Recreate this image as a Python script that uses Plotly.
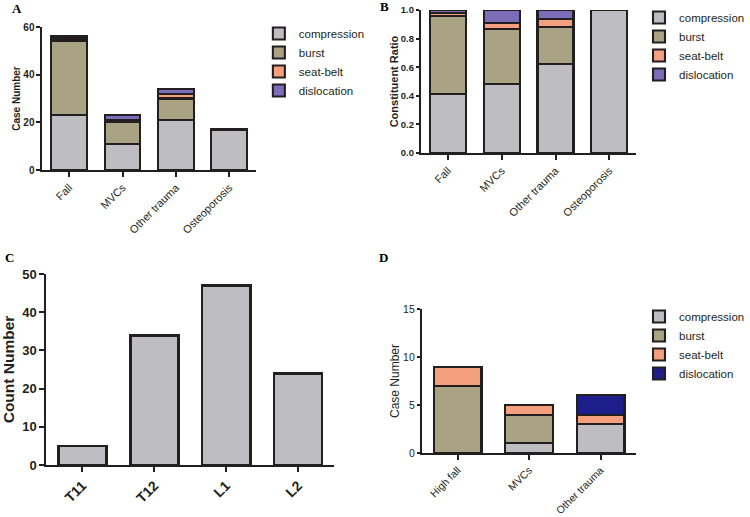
import plotly.graph_objects as go

# panel A: case numbers by cause
causes_a = ["Fall", "MVCs", "Other trauma", "Osteoporosis"]
compression_a = [23, 11, 21, 17]
burst_a = [31, 9, 9, 0]
seatbelt_a = [1, 1, 2, 0]
dislocation_a = [1, 2, 2, 0]

# panel B: constituent ratio by cause
compression_b = [0.41, 0.48, 0.62, 1.0]
burst_b = [0.55, 0.39, 0.26, 0.0]
seatbelt_b = [0.02, 0.04, 0.06, 0.0]
dislocation_b = [0.02, 0.09, 0.06, 0.0]

# panel C: count by level
levels_c = ["T11", "T12", "L1", "L2"]
counts_c = [5, 34, 47, 24]

# panel D: case numbers by cause
causes_d = ["High fall", "MVCs", "Other trauma"]
compression_d = [0, 1, 3]
burst_d = [7, 3, 0]
seatbelt_d = [2, 1, 1]
dislocation_d = [0, 0, 2]

types = ["compression", "burst", "seat-belt", "dislocation"]
colors = ["#BEBEC2", "#A9A283", "#F4A07F", "#7B6DB8"]
colors_d = ["#BEBEC2", "#A9A283", "#F4A07F", "#1E1E8A"]
OUTLINE = "#231F20"
FONT = "Liberation Sans"

W, H = 750, 517

def px_x(a, b):
    return [a / W, b / W]

def px_y(bottom, top):
    return [1 - bottom / H, 1 - top / H]

fig = go.Figure()

def add_stack(x, series, cols, xa, ya, legend, lw=2.1):
    for name, vals, c in zip(types, series, cols):
        fig.add_trace(go.Bar(x=x, y=vals, name=name, marker_color=c,
                             marker_line=dict(color=OUTLINE, width=lw),
                             xaxis=xa, yaxis=ya, legend=legend))

add_stack(causes_a, [compression_a, burst_a, seatbelt_a, dislocation_a], colors, "x", "y", "legend")
add_stack(causes_a, [compression_b, burst_b, seatbelt_b, dislocation_b], colors, "x2", "y2", "legend2")
fig.add_trace(go.Bar(x=levels_c, y=counts_c, marker_color="#BEBEC2",
                     marker_line=dict(color=OUTLINE, width=2.8),
                     xaxis="x3", yaxis="y3", showlegend=False))
add_stack(causes_d, [compression_d, burst_d, seatbelt_d, dislocation_d], colors_d, "x4", "y4", "legend3")

def xax(domain, rng, anchor, size=11, bold=False):
    return dict(domain=domain, range=rng, anchor=anchor, type="category", showline=True,
                linecolor=OUTLINE, linewidth=2, ticks="outside", ticklen=5, tickwidth=1.5,
                tickcolor=OUTLINE, tickangle=-45, showgrid=False, zeroline=False,
                automargin=False,
                tickfont=dict(family=FONT, size=size, color="#231F20",
                              weight="bold" if bold else "normal"))

def yax(domain, rng, anchor, dtick, title, size=10, tsize=10, bold=True, tbold=True,
        standoff=4, ticklen=5):
    return dict(domain=domain, range=rng, anchor=anchor, dtick=dtick, showline=True,
                linecolor=OUTLINE, linewidth=2, ticks="outside", ticklen=ticklen, tickwidth=1.5,
                tickcolor=OUTLINE, showgrid=False, zeroline=False, automargin=False,
                tickfont=dict(family=FONT, size=size, color="#231F20",
                              weight="bold" if bold else "normal"),
                title=dict(text=title, standoff=standoff,
                           font=dict(family=FONT, size=tsize, color="#231F20",
                                     weight="bold" if tbold else "normal")))

xa = xax(px_x(43, 259), [-0.5, 3.5], "y")
xb = xax(px_x(426, 644), [-0.5, 3.5], "y2")
xc = xax(px_x(47, 338), [-0.5, 3.5], "y3", size=14, bold=True)
xd = xax(px_x(427, 644), [-0.5, 2.5], "y4", size=10.5)

ya = yax(px_y(170, 27), [0, 60], "x", 20, "Case Number", standoff=1, ticklen=4)
yb = yax(px_y(153, 10), [0, 1], "x2", 0.2, "Constituent Ratio", size=9.5, tsize=11,
         standoff=0, ticklen=3)
yb["tickformat"] = ".1f"
yc = yax(px_y(465, 274), [0, 50], "x3", 10, "Count Number", size=13, tsize=15.5, standoff=9)
yd = yax(px_y(453, 309), [0, 15], "x4", 5, "Case Number", size=10.5, bold=False, tbold=False,
         tsize=12, standoff=1, ticklen=3)

def leg(x, y):
    return dict(x=x / W, y=1 - y / H, xanchor="left", yanchor="top", itemwidth=30,
                traceorder="normal", font=dict(family=FONT, size=11.5, color="#231F20"),
                tracegroupgap=0, bgcolor="rgba(0,0,0,0)", borderwidth=0)

letters = [("A", 10, 8), ("B", 383, 7), ("C", 3, 257), ("D", 382, 257)]
annotations = [dict(text=t, x=x / W, y=1 - y / H, xref="paper", yref="paper",
                    xanchor="left", yanchor="middle", showarrow=False,
                    font=dict(family="Liberation Serif", size=13, color="#000", weight="bold"))
               for t, x, y in letters]

fig.update_layout(
    template="none",
    width=W, height=H, margin=dict(l=0, r=0, t=0, b=0),
    plot_bgcolor="white", paper_bgcolor="white",
    barmode="stack", bargap=0.33, showlegend=True,
    xaxis=xa, yaxis=ya, xaxis2=xb, yaxis2=yb, xaxis3=xc, yaxis3=yc, xaxis4=xd, yaxis4=yd,
    legend=leg(262, 19), legend2=leg(647, 3), legend3=leg(647, 302),
    annotations=annotations,
)

fig.write_html("out.html", config={"displayModeBar": False},
               post_script="document.body.style.margin='0';")
